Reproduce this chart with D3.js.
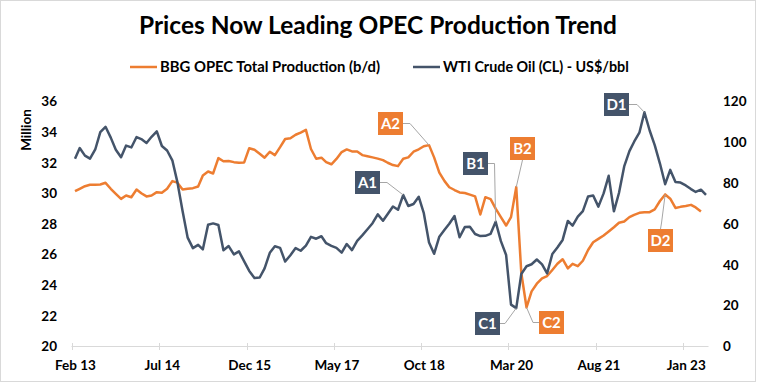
<!doctype html>
<html>
<head>
<meta charset="utf-8">
<title>Prices Now Leading OPEC Production Trend</title>
<script src="https://cdn.jsdelivr.net/npm/d3@7"></script>
<style>
  body { margin: 0; background: #fff; }
  svg { display: block; font-family: Lato, "Open Sans", sans-serif; font-weight: bold; }
</style>
</head>
<body>
<div id="chart"></div>
<script>
// monthly data, first point Feb 2013
const firstMonth = '2013-02';
const tickLabels = ['Feb 13', 'Jul 14', 'Dec 15', 'May 17', 'Oct 18', 'Mar 20', 'Aug 21', 'Jan 23'];

// BBG OPEC total production, million b/d (Feb 13 .. Apr 23)
const opecProduction = [
  30.14, 30.30, 30.47, 30.56, 30.56, 30.58, 30.69, 30.30, 29.97, 29.64, 29.86, 29.75,
  30.25, 30.01, 29.80, 29.86, 30.08, 30.04, 30.30, 30.80, 30.70, 30.25, 30.30, 30.34,
  30.45, 31.17, 31.43, 31.30, 32.30, 32.10, 32.12, 32.04, 32.00, 32.02, 32.95, 32.85,
  32.59, 32.33, 32.72, 32.50, 33.02, 33.55, 33.60, 33.83, 33.97, 34.15, 32.90, 32.26,
  32.33, 32.04, 31.90, 32.25, 32.70, 32.87, 32.74, 32.74, 32.50, 32.42, 32.35, 32.27,
  32.17, 32.00, 31.85, 31.78, 32.26, 32.35, 32.72, 32.88, 33.08, 33.15, 32.35, 31.35,
  30.80, 30.40, 30.22, 30.06, 30.02, 29.92, 29.80, 28.62, 29.75, 29.62, 29.00, 28.45,
  27.90, 28.45, 30.41, 24.80, 22.55, 23.60, 24.10, 24.45, 24.60, 25.00, 25.40, 25.70,
  25.10, 25.40, 25.25, 25.60, 26.30, 26.81, 27.03, 27.25, 27.51, 27.79, 28.08, 28.16,
  28.45, 28.60, 28.73, 28.77, 28.77, 28.95, 29.50, 29.93, 29.65, 29.05, 29.12, 29.18,
  29.25, 29.08, 28.82
];

// WTI crude oil (CL), US$/bbl (Feb 13 .. May 23)
const wtiPrice = [
  92.0, 97.2, 93.5, 92.0, 96.5, 105.0, 107.6, 102.3, 96.4, 92.7, 98.4, 97.5,
  102.6, 101.6, 99.7, 102.7, 105.4, 98.2, 96.0, 91.2, 80.5, 66.2, 53.3, 48.2,
  49.8, 47.6, 59.6, 60.3, 59.5, 47.1, 49.2, 45.1, 46.6, 41.7, 37.0, 33.6,
  33.8, 38.3, 45.9, 49.1, 48.3, 41.6, 44.7, 48.2, 46.9, 49.4, 53.7, 52.8,
  54.0, 50.6, 49.3, 48.3, 46.0, 50.2, 47.2, 51.7, 54.4, 57.4, 60.4, 64.7,
  61.6, 64.9, 68.6, 67.0, 74.2, 68.8, 69.8, 73.3, 65.3, 50.9, 45.4, 53.8,
  57.2, 60.1, 63.9, 53.5, 58.5, 58.6, 55.1, 54.1, 54.2, 55.2, 61.1, 51.6,
  44.8, 20.5, 18.8, 35.5, 39.3, 40.3, 42.6, 40.2, 35.8, 45.3, 48.5, 52.2,
  61.5, 59.2, 63.6, 66.3, 73.5, 74.0, 68.5, 75.0, 83.6, 66.2, 75.2, 88.2,
  95.7, 100.3, 104.7, 114.7, 105.8, 98.6, 89.6, 79.5, 86.5, 80.6, 80.3, 78.9,
  77.1, 75.7, 76.8, 74.3
];

const leftTicks = [20, 22, 24, 26, 28, 30, 32, 34, 36];
const rightTicks = [0, 20, 40, 60, 80, 100, 120];

// callouts: label, series, month index
const callouts = [
  { label: 'A1', series: 'wti', i: 64 },
  { label: 'A2', series: 'opec', i: 69 },
  { label: 'B1', series: 'wti', i: 82 },
  { label: 'B2', series: 'opec', i: 86 },
  { label: 'C1', series: 'wti', i: 86 },
  { label: 'C2', series: 'opec', i: 88 },
  { label: 'D1', series: 'wti', i: 111 },
  { label: 'D2', series: 'opec', i: 115 }
];

const W = 757, H = 384;
const orange = '#ed7d31', navy = '#44546a';

// box placement for each callout (x, y = top-left; elbow = leader bend)
const boxLayout = {
  A1: { x: 355, y: 171, side: 'right', elbow: 387 },
  A2: { x: 378, y: 112, side: 'right', elbow: 410 },
  B1: { x: 463, y: 152, side: 'right', elbow: 494.5 },
  B2: { x: 510, y: 137, side: 'bottom' },
  C1: { x: 475, y: 312, side: 'right', elbow: 505 },
  C2: { x: 539, y: 311, side: 'left', elbow: 533 },
  D1: { x: 604, y: 93, side: 'right', elbow: 637 },
  D2: { x: 648, y: 229, side: 'top' }
};
const boxW = 25, boxH = 23;

const parseMonth = d3.timeParse('%Y-%m');
const start = parseMonth(firstMonth);
const monthOf = i => d3.timeMonth.offset(start, i);
const tickDates = tickLabels.map(d3.timeParse('%b %y'));

const x = d3.scaleTime()
  .domain([start, monthOf(wtiPrice.length - 1)])
  .range([75, 706]);
const yLeft = d3.scaleLinear().domain([20, 36]).range([346.5, 101.5]);
const yRight = d3.scaleLinear().domain([0, 120]).range([346.5, 101.5]);

const svg = d3.select('#chart').append('svg')
  .attr('width', W)
  .attr('height', H);

svg.append('rect')
  .attr('x', 0.5).attr('y', 0.5)
  .attr('width', W - 2).attr('height', H - 3)
  .attr('fill', '#fff')
  .attr('stroke', '#d9d9d9');

function fitText(sel, width) {
  const w = sel.node().getComputedTextLength();
  const fs = parseFloat(sel.attr('font-size'));
  sel.attr('font-size', (fs * width / w).toFixed(2));
}

// title
svg.append('text')
  .attr('x', 378).attr('y', 34)
  .attr('text-anchor', 'middle')
  .attr('font-size', 24)
  .attr('fill', '#000')
  .text('Prices Now Leading OPEC Production Trend')
  .call(fitText, 478);

// legend
const legend = [
  { name: 'BBG OPEC Total Production (b/d)', color: orange, x: 130, w: 220 },
  { name: 'WTI Crude Oil (CL) - US$/bbl', color: navy, x: 413, w: 186 }
];
legend.forEach(l => {
  svg.append('line')
    .attr('x1', l.x).attr('x2', l.x + 27)
    .attr('y1', 67).attr('y2', 67)
    .attr('stroke', l.color).attr('stroke-width', 2.5);
  svg.append('text')
    .attr('x', l.x + 30).attr('y', 72)
    .attr('font-size', 13)
    .attr('fill', '#000')
    .text(l.name)
    .call(fitText, l.w);
});

// axes
const gLeft = svg.append('g')
  .attr('transform', 'translate(57,0)')
  .call(d3.axisLeft(yLeft).tickValues(leftTicks).tickSize(0).tickPadding(0));
const gRight = svg.append('g')
  .attr('transform', 'translate(723,0)')
  .call(d3.axisRight(yRight).tickValues(rightTicks).tickSize(0).tickPadding(0));
const gBottom = svg.append('g')
  .attr('transform', 'translate(0,346.5)')
  .call(d3.axisBottom(x).tickValues(tickDates).tickFormat(d3.timeFormat('%b %y')).tickSize(0).tickPadding(14));

[gLeft, gRight, gBottom].forEach(g => {
  g.select('.domain').remove();
  g.selectAll('text')
    .attr('font-family', 'Lato, sans-serif')
    .attr('font-weight', 'bold')
    .attr('font-size', 13.5)
    .attr('fill', '#000');
});

// x axis line and tick marks (between categories)
svg.append('line')
  .attr('x1', 71.5).attr('x2', 708.5)
  .attr('y1', 346.5).attr('y2', 346.5)
  .attr('stroke', '#d9d9d9');
svg.append('g')
  .selectAll('line')
  .data(tickDates)
  .join('line')
  .attr('x1', d => Math.round(x(d) - 2.6) + 0.5)
  .attr('x2', d => Math.round(x(d) - 2.6) + 0.5)
  .attr('y1', 343).attr('y2', 350)
  .attr('stroke', '#d9d9d9');

svg.append('text')
  .attr('transform', 'translate(31,130) rotate(-90)')
  .attr('text-anchor', 'middle')
  .attr('font-size', 13.5)
  .attr('fill', '#000')
  .text('Million');

// lines
const opecLine = d3.line()
  .x((d, i) => x(monthOf(i)))
  .y(d => yLeft(d));
const wtiLine = d3.line()
  .x((d, i) => x(monthOf(i)))
  .y(d => yRight(d));

svg.append('path')
  .datum(opecProduction)
  .attr('fill', 'none')
  .attr('stroke', orange)
  .attr('stroke-width', 2.5)
  .attr('stroke-linejoin', 'round')
  .attr('d', opecLine);

svg.append('path')
  .datum(wtiPrice)
  .attr('fill', 'none')
  .attr('stroke', navy)
  .attr('stroke-width', 2.5)
  .attr('stroke-linejoin', 'round')
  .attr('d', wtiLine);

// callouts
callouts.forEach(c => {
  const b = boxLayout[c.label];
  const px = x(monthOf(c.i));
  const py = c.series === 'wti' ? yRight(wtiPrice[c.i]) : yLeft(opecProduction[c.i]);
  let pts;
  if (b.side === 'right') {
    const ay = b.y + boxH / 2;
    pts = [[b.x + boxW, ay], [b.elbow, ay], [px, py]];
  } else if (b.side === 'left') {
    const ay = b.y + boxH / 2;
    pts = [[b.x, ay], [b.elbow, ay], [px, py]];
  } else if (b.side === 'bottom') {
    pts = [[b.x + boxW / 2, b.y + boxH], [px, py]];
  } else {
    pts = [[b.x + boxW / 2, b.y], [b.x + boxW / 2 + 1, b.y - 6], [px, py]];
  }
  svg.append('path')
    .attr('d', d3.line()(pts))
    .attr('fill', 'none')
    .attr('stroke', '#a6a6a6')
    .attr('stroke-width', 1);

  svg.append('rect')
    .attr('x', b.x).attr('y', b.y)
    .attr('width', boxW).attr('height', boxH)
    .attr('fill', c.series === 'wti' ? navy : orange);
  svg.append('text')
    .attr('x', b.x + boxW / 2).attr('y', b.y + boxH / 2 + 5.5)
    .attr('text-anchor', 'middle')
    .attr('font-size', 15)
    .attr('fill', '#fff')
    .text(c.label);
});
</script>
</body>
</html>
